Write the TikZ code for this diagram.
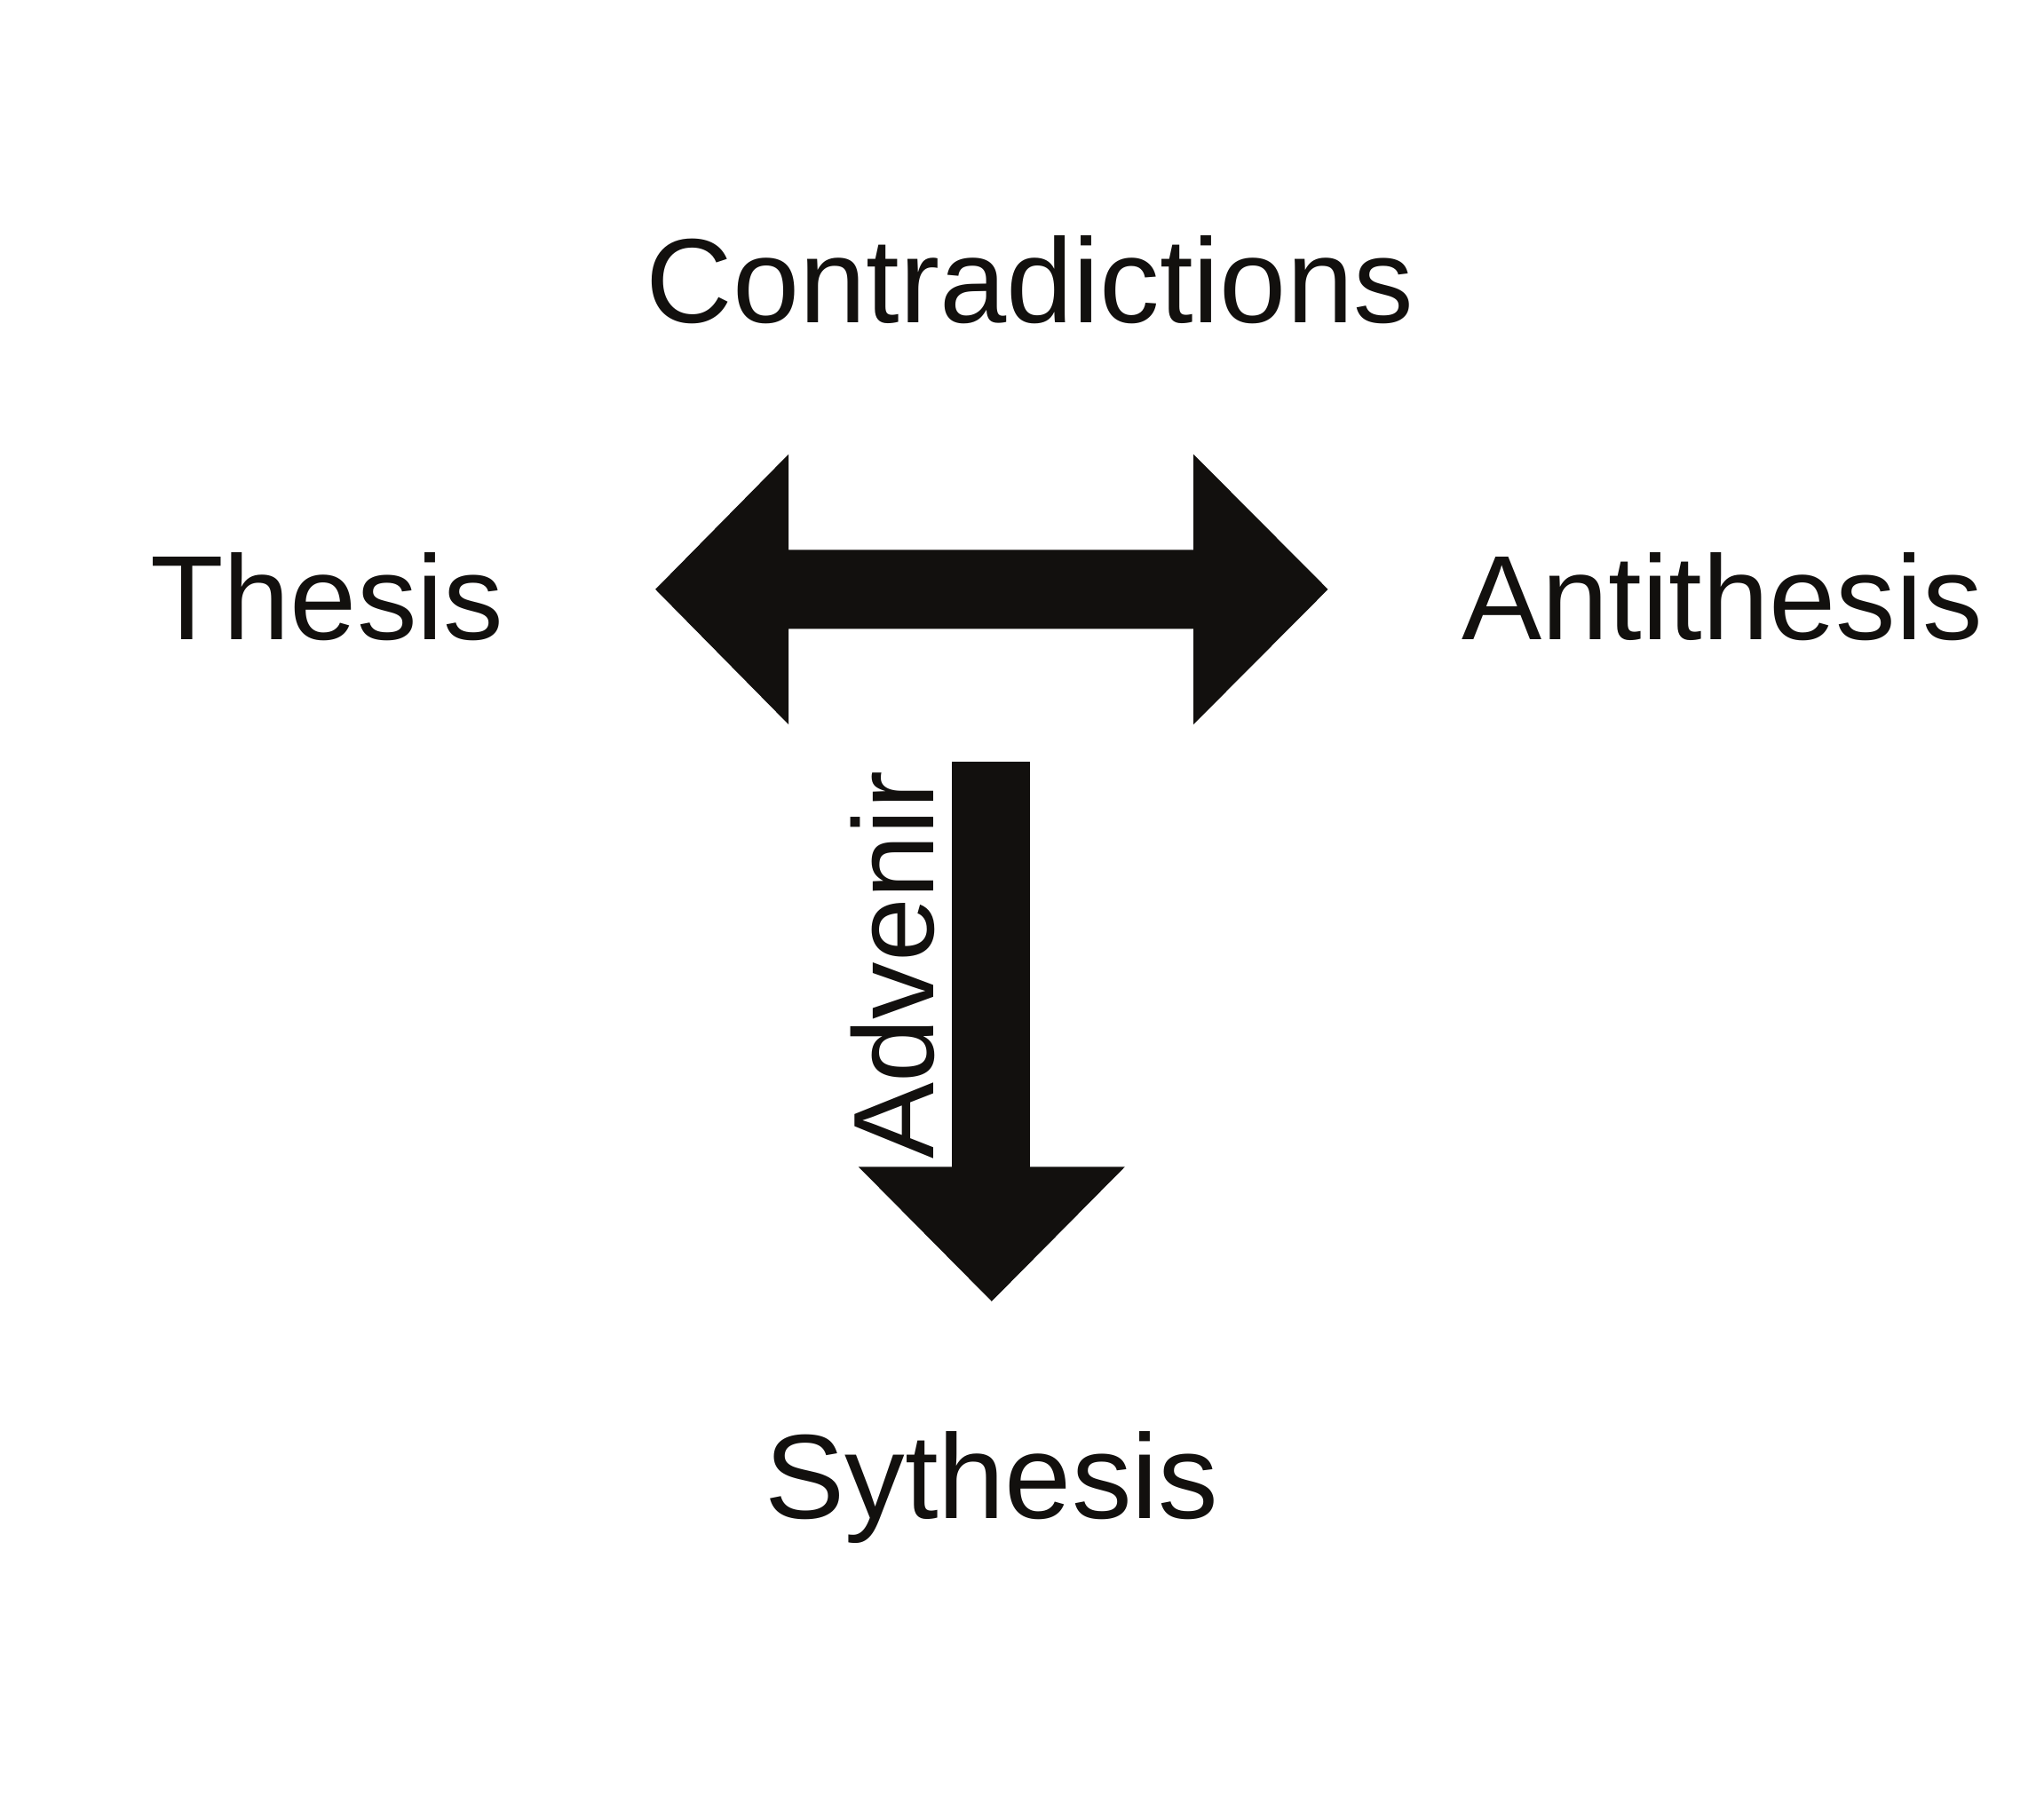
\documentclass[tikz,border=0pt]{standalone}
\usepackage{fontspec}
\setmainfont{Liberation Sans}
\usetikzlibrary{calc}
\definecolor{ink}{RGB}{18,16,14}
\tikzset{
	lbl/.style={anchor=base, inner sep=0pt, text=ink, font=\fontsize{25.9}{30}\selectfont},
	blockarrow/.style={fill=ink, draw=none}
}

\begin{document}
\begin{tikzpicture}
			%%%%% START %%%%%
			\useasboundingbox (0, 0) rectangle (15.5, 13.79);
			
			\node[lbl] (contra) at (7.81, 11.34) {Contradictions};
			\node[lbl] (thesis) at (2.48, 8.94) {Thesis};
			\node[lbl] (anti) at (13.06, 8.94) {Antithesis};
			\node[lbl] (synth) at (7.52, 2.27) {Sythesis};
			
			\coordinate (lefttip) at (4.97, 9.32);
			\coordinate (righttip) at (10.07, 9.32);
			\fill[blockarrow] (lefttip) -- (5.98, 10.345) -- (5.98, 9.62) -- (9.05, 9.62) -- (9.05, 10.345)
				-- (righttip) -- (9.05, 8.295) -- (9.05, 9.02) -- (5.98, 9.02) -- (5.98, 8.295) -- cycle;
			
			\coordinate (downtip) at (7.52, 3.92);
			\fill[blockarrow] (7.22, 8.01) rectangle (7.81, 4.9);
			\fill[blockarrow] (6.51, 4.94) -- (8.53, 4.94) -- (downtip) -- cycle;
			
			\node[rotate=90, anchor=base west, inner sep=0pt, text=ink, font=\fontsize{24.7}{30}\selectfont] (advenir) at (7.08, 4.99) {Advenir};
			%%%%% END %%%%%
		\end{tikzpicture}
\end{document}
